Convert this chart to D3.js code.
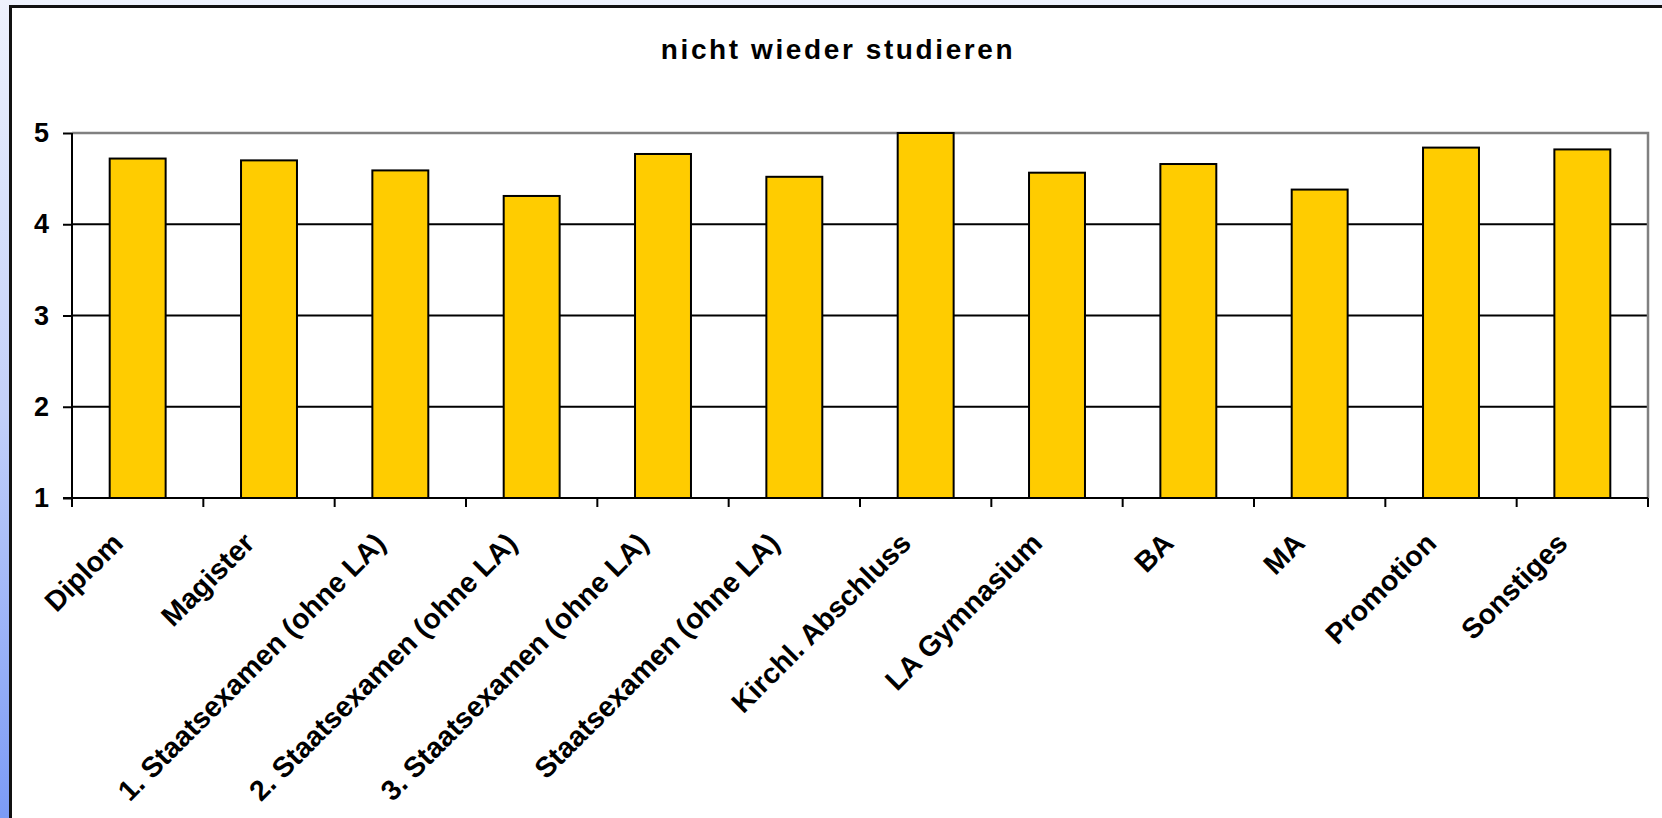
<html>
<head>
    <title>nicht wieder studieren</title>
    <style>
        html, body {
            margin: 0;
            padding: 0;
            width: 1662px;
            height: 818px;
            overflow: hidden;
            background: linear-gradient(to bottom, #eef2fd 0%, #c3d0f9 50%, #7b9bf6 100%);
        }

        svg {
            display: block;
        }

        text {
            font-family: "Liberation Sans", Arial, sans-serif;
            font-weight: bold;
            fill: #000;
        }
    </style>
</head>

<body>
    <script src="https://d3js.org/d3.v7.min.js"></script>
    <script>
        var categories = ["Diplom", "Magister", "1. Staatsexamen (ohne LA)", "2. Staatsexamen (ohne LA)",
            "3. Staatsexamen (ohne LA)", "Staatsexamen (ohne LA)", "Kirchl. Abschluss", "LA Gymnasium",
            "BA", "MA", "Promotion", "Sonstiges"];
        var values = [4.72, 4.70, 4.59, 4.31, 4.77, 4.52, 5.0, 4.565, 4.66, 4.38, 4.84, 4.82];
        var yTicks = [1, 2, 3, 4, 5];
        var title = "nicht wieder studieren";

        var w = 1662,
            h = 818;
        var plot = { left: 72, right: 1648, top: 133, bottom: 498 };

        var svg = d3.select('body').append('svg')
            .attr('width', w).attr('height', h);

        // white chart panel, runs off the right and bottom edge
        svg.append('rect')
            .attr('x', 10.5).attr('y', 6.5)
            .attr('width', w + 20).attr('height', h + 20)
            .attr('fill', '#fff')
            .attr('stroke', '#111')
            .attr('stroke-width', 3);

        svg.append('text')
            .attr('x', 838).attr('y', 59)
            .attr('text-anchor', 'middle')
            .style('font-size', '28px')
            .style('letter-spacing', '2.6px')
            .text(title);

        var x = d3.scaleBand()
            .domain(categories)
            .range([plot.left, plot.right])
            .paddingInner(0.574)
            .paddingOuter(0.287);

        var y = d3.scaleLinear()
            .domain([1, 5])
            .range([plot.bottom, plot.top]);

        var step = (plot.right - plot.left) / categories.length;

        // grid lines
        svg.append('g').selectAll('line')
            .data(yTicks.filter(function (d) { return d > 1 && d < 5; }))
            .enter().append('line')
            .attr('x1', plot.left).attr('x2', plot.right)
            .attr('y1', function (d) { return y(d); })
            .attr('y2', function (d) { return y(d); })
            .attr('stroke', '#000')
            .attr('stroke-width', 2);

        // plot area border top / right
        svg.append('polyline')
            .attr('points', [[plot.left, y(5)], [plot.right, y(5)], [plot.right, y(1)]])
            .attr('fill', 'none')
            .attr('stroke', '#808080')
            .attr('stroke-width', 2.5);

        svg.append('g').selectAll('rect')
            .data(values)
            .enter().append('rect')
            .attr('x', function (d, i) { return x(categories[i]); })
            .attr('y', function (d) { return y(d); })
            .attr('width', x.bandwidth())
            .attr('height', function (d) { return y(1) - y(d); })
            .attr('fill', '#ffcc00')
            .attr('stroke', '#000')
            .attr('stroke-width', 2);

        // y axis
        var yAxis = d3.axisLeft(y)
            .tickValues(yTicks)
            .tickSize(9)
            .tickPadding(14)
            .tickFormat(d3.format('d'));

        var gy = svg.append('g')
            .attr('transform', 'translate(' + plot.left + ',0)')
            .call(yAxis);
        gy.select('.domain').remove();
        gy.selectAll('line').attr('stroke', '#000').attr('stroke-width', 2);
        gy.selectAll('text')
            .style('font-size', '27px')
            .style('font-family', '"Liberation Sans", Arial, sans-serif')
            .style('font-weight', 'bold')
            .attr('fill', '#000');

        svg.append('line')
            .attr('x1', plot.left).attr('x2', plot.left)
            .attr('y1', plot.top).attr('y2', plot.bottom + 9)
            .attr('stroke', '#000').attr('stroke-width', 2);

        svg.append('line')
            .attr('x1', plot.left - 9).attr('x2', plot.right)
            .attr('y1', plot.bottom).attr('y2', plot.bottom)
            .attr('stroke', '#000').attr('stroke-width', 2);

        // category boundary ticks
        svg.append('g').selectAll('line')
            .data(d3.range(categories.length + 1))
            .enter().append('line')
            .attr('x1', function (i) { return plot.left + i * step; })
            .attr('x2', function (i) { return plot.left + i * step; })
            .attr('y1', plot.bottom)
            .attr('y2', plot.bottom + 9)
            .attr('stroke', '#000')
            .attr('stroke-width', 2);

        // rotated category labels
        svg.append('g').selectAll('text')
            .data(categories)
            .enter().append('text')
            .attr('text-anchor', 'end')
            .attr('transform', function (d) {
                var cx = x(d) + x.bandwidth() / 2 - 13;
                return 'translate(' + cx + ',545) rotate(-45)';
            })
            .style('font-size', '28.5px')
            .text(function (d) { return d; });
    </script>
</body>

</html>
